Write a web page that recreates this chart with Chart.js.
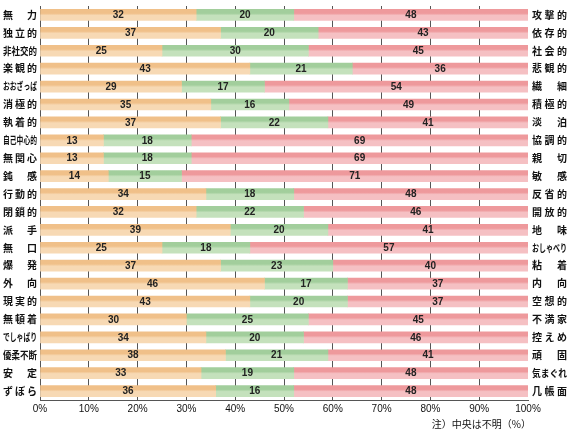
<!DOCTYPE html>
<html>
<head>
<meta charset="utf-8">
<script src="https://cdn.jsdelivr.net/npm/chart.js@4/dist/chart.umd.min.js"></script>
<style>
html,body{margin:0;padding:0;background:#fff;}
#wrap{width:570px;height:431px;position:relative;}
</style>
</head>
<body>
<div id="wrap"><canvas id="c" width="570" height="431"></canvas></div>
<script>
const leftLabels = ["無力","独立的","非社交的","楽観的","おおざっぱ","消極的","執着的","自己中心的","無関心","鈍感","行動的","閉鎖的","派手","無口","爆発","外向","現実的","無頓着","でしゃばり","優柔不断","安定","ずぼら"];
const rightLabels = ["攻撃的","依存的","社会的","悲観的","繊細","積極的","淡泊","協調的","親切","敏感","反省的","開放的","地味","おしゃべり","粘着","内向","空想的","不満家","控えめ","頑固","気まぐれ","几帳面"];
const leftShare = [32,37,25,43,29,35,37,13,13,14,34,32,39,25,37,46,43,30,34,38,33,36];
const middleShare = [20,20,30,21,17,16,22,18,18,15,18,22,20,18,23,17,20,25,20,21,19,16];
const rightShare = [48,43,45,36,54,49,41,69,69,71,48,46,41,57,40,37,37,45,46,41,48,48];
const xTicks = [0,10,20,30,40,50,60,70,80,90,100];
const noteText = "注）中央は不明（%）";

const BAR_H = 11;
function grad(top, bottom) {
  return (c) => {
    const chart = c.chart;
    const y = chart.scales && chart.scales.y;
    if (c.type !== 'data' || !y || !chart.chartArea) return top;
    const cy = y.getPixelForValue(c.dataIndex);
    const g = chart.ctx.createLinearGradient(0, cy - BAR_H/2, 0, cy + BAR_H/2);
    g.addColorStop(0, top);
    g.addColorStop(0.35, top);
    g.addColorStop(0.55, bottom);
    g.addColorStop(1, bottom);
    return g;
  };
}

function drawSpread(ctx, s, x0, x1, cy) {
  const chars = Array.from(s);
  const n = chars.length;
  const W = x1 - x0;
  const cw = ctx.measureText(chars[0]).width;
  ctx.textAlign = 'left';
  if (n * cw >= W) {
    ctx.fillText(s, x0, cy, W);
  } else if (n === 1) {
    ctx.fillText(s, x0, cy);
  } else {
    const gap = (W - n * cw) / (n - 1);
    chars.forEach((ch, i) => ctx.fillText(ch, x0 + i * (cw + gap), cy));
  }
}

const labelPlugin = {
  id: 'labels',
  afterDraw(chart) {
    const ctx = chart.ctx;
    const y = chart.scales.y;
    ctx.save();
    ctx.fillStyle = '#111';
    ctx.textBaseline = 'middle';
    ctx.font = 'bold 10px "Noto Sans CJK JP"';
    leftLabels.forEach((lab, i) => drawSpread(ctx, lab, 3, 37, y.getPixelForValue(i)));
    rightLabels.forEach((lab, i) => drawSpread(ctx, lab, 532, 567, y.getPixelForValue(i)));
    // values
    ctx.font = 'bold 10px "Liberation Sans", Arial, sans-serif';
    ctx.fillStyle = '#222';
    ctx.textAlign = 'center';
    chart.data.datasets.forEach((ds, di) => {
      const meta = chart.getDatasetMeta(di);
      meta.data.forEach((bar, i) => {
        const p = bar.getProps(['x','y','base'], true);
        ctx.fillText(String(ds.data[i]), (p.x + p.base) / 2, p.y + 0.5);
      });
    });
    ctx.font = '10px "Noto Sans CJK JP"';
    ctx.fillStyle = '#111';
    ctx.textAlign = 'right';
    ctx.fillText(noteText, 531, 424);
    ctx.restore();
  }
};

new Chart(document.getElementById('c'), {
  type: 'bar',
  data: {
    labels: leftLabels,
    datasets: [
      { data: leftShare, backgroundColor: grad('#F0C089', '#F7D9B4') },
      { data: middleShare, backgroundColor: grad('#A2CE9C', '#C4E1BC') },
      { data: rightShare, backgroundColor: grad('#EE999C', '#F5C0C3') }
    ]
  },
  options: {
    indexAxis: 'y',
    responsive: false,
    animation: false,
    layout: { padding: { left: 40, right: 42, top: 6, bottom: 0 } },
    datasets: { bar: { barThickness: BAR_H, borderWidth: 0 } },
    plugins: { legend: { display: false }, tooltip: { enabled: false } },
    scales: {
      x: {
        stacked: true,
        min: 0, max: 100,
        afterBuildTicks(scale) { scale.ticks = xTicks.map(v => ({ value: v })); },
        afterFit(scale) { scale.height = 31; },
        ticks: {
          callback: (v) => v + '%',
          font: { size: 10, family: '"Liberation Sans", Arial, sans-serif' },
          color: '#111',
          padding: 3,
          maxRotation: 0
        },
        grid: {
          drawTicks: false,
          color: (c) => (c.tick && c.tick.value === 100) ? 'rgba(0,0,0,0)' : '#555',
          lineWidth: 1
        },
        border: { display: true, color: '#555' }
      },
      y: {
        stacked: true,
        display: false
      }
    }
  },
  plugins: [labelPlugin]
});
</script>
</body>
</html>
